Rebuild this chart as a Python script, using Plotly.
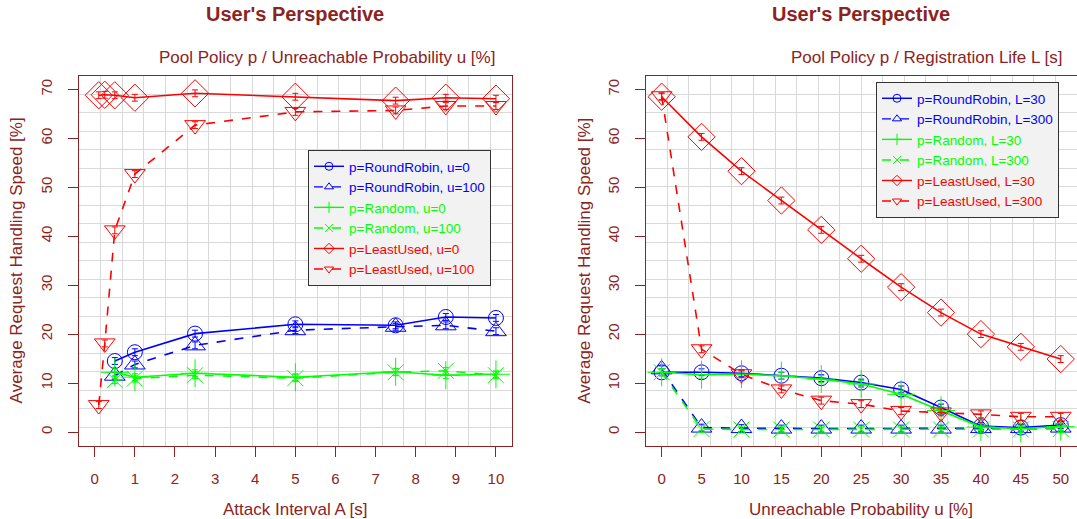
import plotly.graph_objects as go

# ---------------- data: left panel (Attack Interval) ----------------
a_lu = [0.1, 0.25, 0.5, 1, 2.5, 5, 7.5, 8.75, 10]
a_all = [0.5, 1, 2.5, 5, 7.5, 8.75, 10]
left_rr_u0 = [14.5, 16.3, 20.1, 22.0, 21.8, 23.5, 23.3]
left_rr_u100 = [11.5, 13.8, 17.7, 20.8, 21.5, 21.8, 20.6]
left_rand_u0 = [12.2, 11.2, 12.0, 11.2, 12.3, 11.6, 11.8]
left_rand_u100 = [10.6, 10.9, 11.6, 11.0, 12.2, 12.5, 11.6]
left_lu_u0 = [68.8, 68.9, 68.8, 68.3, 69.2, 68.5, 67.7, 68.3, 68.1]
left_lu_u100 = [5.5, 18.1, 41.2, 52.7, 62.7, 65.4, 65.7, 66.6, 66.6]

# ---------------- data: right panel (Unreachable Probability) ----------------
u_vals = [0, 5, 10, 15, 20, 25, 30, 35, 40, 45, 50]
right_rr_l30 = [12.2, 12.2, 12.0, 11.5, 11.0, 10.1, 8.7, 5.0, 1.2, 0.9, 1.4]
right_rr_l300 = [12.8, 0.9, 0.8, 0.7, 0.7, 0.7, 0.7, 0.7, 0.8, 0.8, 0.9]
right_rand_l30 = [12.2, 11.7, 11.8, 11.5, 10.8, 9.8, 7.7, 4.4, 1.0, 0.7, 1.1]
right_rand_l300 = [12.2, 0.6, 0.5, 0.5, 0.5, 0.5, 0.5, 0.5, 0.5, 0.5, 0.6]
right_lu_l30 = [68.5, 60.3, 53.3, 47.3, 41.3, 35.4, 29.6, 24.4, 20.0, 17.4, 14.9]
right_lu_l300 = [68.6, 16.9, 11.8, 8.7, 6.4, 5.7, 4.3, 4.0, 3.6, 3.1, 3.1]

x_ticks_left = [0, 1, 2, 3, 4, 5, 6, 7, 8, 9, 10]
x_ticks_right = [0, 5, 10, 15, 20, 25, 30, 35, 40, 45, 50]
y_ticks = [0, 10, 20, 30, 40, 50, 60, 70]

titles = ["User's Perspective", "User's Perspective"]
subtitles = ["Pool Policy p / Unreachable Probability u [%]",
             "Pool Policy p / Registration Life L [s]"]
xtitles = ["Attack Interval A [s]", "Unreachable Probability u [%]"]
ytitle = "Average Request Handling Speed [%]"

left_names = ["p=RoundRobin, u=0", "p=RoundRobin, u=100", "p=Random, u=0",
              "p=Random, u=100", "p=LeastUsed, u=0", "p=LeastUsed, u=100"]
right_names = ["p=RoundRobin, L=30", "p=RoundRobin, L=300", "p=Random, L=30",
               "p=Random, L=300", "p=LeastUsed, L=30", "p=LeastUsed, L=300"]

# ---------------- styling ----------------
W, H = 1077, 519
FONT = "Liberation Sans, Arial, Helvetica, sans-serif"
AXC = "#8B2323"
BLUE, GREEN, RED = "#0000FF", "#00FF00", "#FF0000"
styles = [
    (BLUE, "solid", "circle-open", 15),
    (BLUE, "dash", "triangle-up-open", 18),
    (GREEN, "solid", "cross-thin-open", 20),
    (GREEN, "dash", "x-thin-open", 16),
    (RED, "solid", "diamond-open", 21),
    (RED, "dash", "triangle-down-open", 18),
]

fig = go.Figure()

left_series = [(a_all, left_rr_u0), (a_all, left_rr_u100), (a_all, left_rand_u0),
               (a_all, left_rand_u100), (a_lu, left_lu_u0), (a_lu, left_lu_u100)]
right_series = [(u_vals, right_rr_l30), (u_vals, right_rr_l300), (u_vals, right_rand_l30),
                (u_vals, right_rand_l300), (u_vals, right_lu_l30), (u_vals, right_lu_l300)]

for panel, (series, names, xa, ya, leg) in enumerate([
        (left_series, left_names, "x", "y", "legend"),
        (right_series, right_names, "x2", "y2", "legend2")]):
    for i, ((xs, ys), nm) in enumerate(zip(series, names)):
        c, dash, sym, sz = styles[i]
        fig.add_trace(go.Scatter(
            x=xs, y=ys, xaxis=xa, yaxis=ya, mode="lines+markers",
            line=dict(color=c, width=1.6, dash=dash),
            marker=dict(symbol=sym, size=sz, color=c, line=dict(color=c, width=1)),
            error_y=dict(type="constant", value=0.7, color=c, thickness=1, width=3),
            showlegend=False, hoverinfo="skip"))
    # legend-only entries (small symbols like the reference)
    for i, nm in enumerate(names):
        c, dash, sym, sz = styles[i]
        fig.add_trace(go.Scatter(
            x=[None], y=[None], xaxis=xa, yaxis=ya, mode="lines+markers",
            name=f"<span style='color:{c}'>{nm}</span>",
            line=dict(color=c, width=1.4, dash=dash),
            marker=dict(symbol=sym, size=8, color=c, line=dict(color=c, width=1)),
            legend=leg, showlegend=True))

# plot-area geometry (pixels)
L_x0, L_x1 = 78.7, 512.0
R_x0, R_x1 = 645.7, 1076.7
P_top, P_bot = 75.7, 445.7

def xdom(a, b):
    return [a / W, b / W]

ydom = [1 - P_bot / H, 1 - P_top / H]

common_axis = dict(
    showline=True, linecolor=AXC, linewidth=1, mirror=True,
    ticks="outside", ticklen=10, tickcolor=AXC, tickwidth=1,
    tickfont=dict(family=FONT, size=15, color=AXC),
    showgrid=False, zeroline=False,
)

def minor(t0, dt):
    return dict(tick0=t0, dtick=dt, showgrid=True, gridcolor="#D9D9D9",
                gridwidth=1, ticks="")

leg_common = dict(bgcolor="#F2F2F2", bordercolor="#333333", borderwidth=1,
                  font=dict(family=FONT, size=13.5), tracegroupgap=0, itemwidth=30,
                  xanchor="left", yanchor="top")

fig.update_layout(
    width=W, height=H,
    margin=dict(l=0, r=0, t=0, b=0),
    paper_bgcolor="white", plot_bgcolor="white",
    font=dict(family=FONT, color=AXC),
    xaxis=dict(domain=xdom(L_x0, L_x1), range=[-0.4, 10.4], tickvals=x_ticks_left,
               anchor="y", ticklabelstandoff=9, minor=minor(-0.4, 0.54), **common_axis),
    yaxis=dict(domain=ydom, range=[-2.8, 72.8], tickvals=y_ticks, anchor="x",
               tickangle=-90, ticklabelstandoff=10, minor=minor(-2.8, 3.78), **common_axis),
    xaxis2=dict(domain=xdom(R_x0, R_x1), range=[-2, 52], tickvals=x_ticks_right,
                anchor="y2", ticklabelstandoff=9, minor=minor(-2, 2.7), **common_axis),
    yaxis2=dict(domain=ydom, range=[-2.8, 72.8], tickvals=y_ticks, anchor="x2",
                tickangle=-90, ticklabelstandoff=10, minor=minor(-2.8, 3.78), **common_axis),
    legend=dict(x=308.0 / W, y=1 - 150 / H, **leg_common),
    legend2=dict(x=876.0 / W, y=1 - 82 / H, **leg_common),
)

ann = []
centers = [((L_x0 + L_x1) / 2), ((R_x0 + R_x1) / 2)]
sub_right = [497.0, 1065.0]
for k in range(2):
    ann.append(dict(text=f"<b>{titles[k]}</b>", x=centers[k] / W, y=1 - 14 / H,
                    xref="paper", yref="paper", xanchor="center", yanchor="middle",
                    showarrow=False, font=dict(family=FONT, size=20, color=AXC)))
    ann.append(dict(text=subtitles[k], x=sub_right[k] / W, y=1 - 57 / H,
                    xref="paper", yref="paper", xanchor="right", yanchor="middle",
                    showarrow=False, font=dict(family=FONT, size=17, color=AXC)))
    ann.append(dict(text=xtitles[k], x=centers[k] / W, y=1 - 509 / H,
                    xref="paper", yref="paper", xanchor="center", yanchor="middle",
                    showarrow=False, font=dict(family=FONT, size=17, color=AXC)))
ytx = [16.7, 585.0]
for k in range(2):
    ann.append(dict(text=ytitle, x=ytx[k] / W, y=1 - 260.7 / H, textangle=-90,
                    xref="paper", yref="paper", xanchor="center", yanchor="middle",
                    showarrow=False, font=dict(family=FONT, size=17, color=AXC)))
fig.update_layout(annotations=ann)

fig.write_html("out.html", config={"displayModeBar": False},
               post_script="document.body.style.margin='0';document.body.style.padding='0';")
